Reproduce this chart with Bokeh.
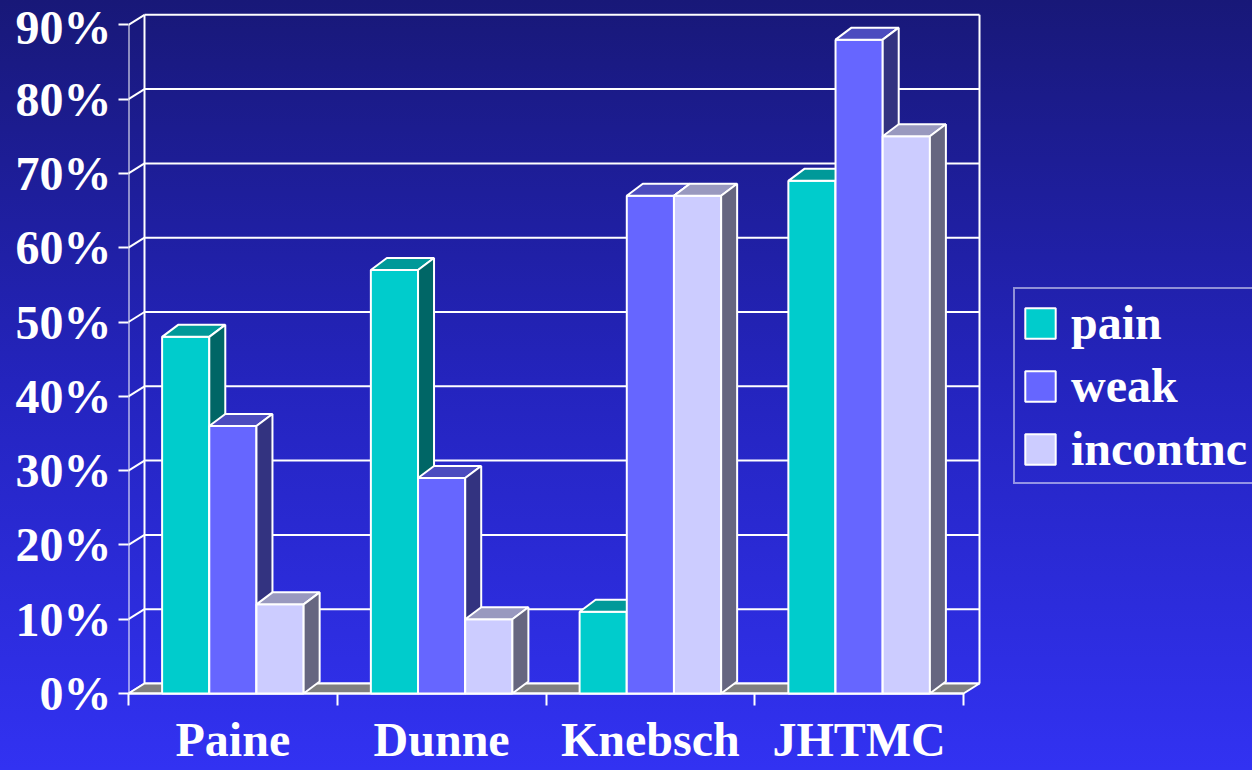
from bokeh.plotting import figure
from bokeh.models import FixedTicker, Legend, LegendItem
from bokeh.embed import file_html
from bokeh.resources import INLINE

# ---- data -------------------------------------------------------------
categories = ["Paine", "Dunne", "Knebsch", "JHTMC"]
series_names = ["pain", "weak", "incontnc"]
pain = [48, 57, 11, 69]
weak = [36, 29, 67, 88]
incontnc = [12, 10, 67, 75]
y_ticks = [0, 10, 20, 30, 40, 50, 60, 70, 80, 90]
y_tick_labels = ["0%", "10%", "20%", "30%", "40%", "50%", "60%", "70%", "80%", "90%"]

# ---- styling ----------------------------------------------------------
FONT = "Liberation Serif"
FONT_SIZE = "48px"
front_colors = ["#00CCCC", "#6666FF", "#CCCCFF"]
top_colors = ["#009999", "#4C4CBF", "#9999BF"]
side_colors = ["#006666", "#333380", "#666680"]
EDGE = "white"

W, H = 1252, 770
LEFT, BOTTOM = 128, 65
PX_PER_X = 208.75          # pixels per category
PX_PER_Y = 7.43            # pixels per percent
ZERO_PX_FROM_BOTTOM = 12   # frame bottom sits a little below the 0% line

x_end = (W - LEFT) / PX_PER_X
y_start = -ZERO_PX_FROM_BOTTOM / PX_PER_Y
y_end = y_start + (H - BOTTOM) / PX_PER_Y

# depth of the 3-D walls and of the bars, in data units
wall_dx, wall_dy = 16 / PX_PER_X, 10 / PX_PER_Y
bar_dx, bar_dy = 16 / PX_PER_X, 12 / PX_PER_Y
bar_w = 0.226
n_cat = len(categories)

p = figure(width=W, height=H, x_range=(0, x_end), y_range=(y_start, y_end),
           output_backend="svg", toolbar_location=None,
           min_border_left=LEFT, min_border_bottom=BOTTOM,
           min_border_top=0, min_border_right=0)
p.border_fill_color = None
p.background_fill_color = None
p.outline_line_color = None
p.grid.visible = False
p.styles = {"background": "linear-gradient(to bottom, #181878 0%, #2424BE 50%, #3232F2 100%)"}

# ---- axes -------------------------------------------------------------
ya = p.yaxis[0]
ya.ticker = FixedTicker(ticks=y_ticks)
ya.major_label_overrides = {t: s for t, s in zip(y_ticks, y_tick_labels)}
ya.axis_line_color = None
ya.major_tick_line_color = EDGE
ya.major_tick_line_width = 2
ya.major_tick_out = 10
ya.major_tick_in = 0
ya.minor_tick_line_color = None
ya.major_label_standoff = 7
ya.major_label_text_font = FONT
ya.major_label_text_font_style = "bold"
ya.major_label_text_font_size = FONT_SIZE
ya.major_label_text_color = "white"

xa = p.xaxis[0]
centers = [i + 0.5 for i in range(n_cat)]
xa.ticker = FixedTicker(ticks=centers, minor_ticks=list(range(n_cat + 1)))
xa.major_label_overrides = {c: name for c, name in zip(centers, categories)}
xa.axis_line_color = None
xa.major_tick_line_color = None
xa.major_tick_out = 0
xa.major_tick_in = 0
xa.minor_tick_line_color = EDGE
xa.minor_tick_line_width = 2
xa.minor_tick_in = ZERO_PX_FROM_BOTTOM
xa.minor_tick_out = 0
xa.major_label_standoff = 7
xa.major_label_text_font = FONT
xa.major_label_text_font_style = "bold"
xa.major_label_text_font_size = FONT_SIZE
xa.major_label_text_color = "white"

# ---- back wall, side wall grid and floor ------------------------------
top_v = y_ticks[-1]
# back wall horizontal grid lines
p.segment(x0=[wall_dx] * len(y_ticks), y0=[t + wall_dy for t in y_ticks],
          x1=[n_cat + wall_dx] * len(y_ticks), y1=[t + wall_dy for t in y_ticks],
          line_color=EDGE, line_width=2)
# side wall diagonals
p.segment(x0=[0] * len(y_ticks), y0=y_ticks,
          x1=[wall_dx] * len(y_ticks), y1=[t + wall_dy for t in y_ticks],
          line_color=EDGE, line_width=2)
# wall verticals (back-left, back-right) and front value axis
p.segment(x0=[wall_dx, n_cat + wall_dx, 0], y0=[wall_dy, wall_dy, 0],
          x1=[wall_dx, n_cat + wall_dx, 0], y1=[top_v + wall_dy, top_v + wall_dy, top_v],
          line_color=EDGE, line_width=2)
# floor
p.patch(x=[0, n_cat, n_cat + wall_dx, wall_dx], y=[0, 0, wall_dy, wall_dy],
        fill_color="#808080", line_color=EDGE, line_width=2)
# front category axis line
p.segment(x0=[0], y0=[0], x1=[n_cat], y1=[0], line_color=EDGE, line_width=2)

# ---- 3-D bars ---------------------------------------------------------
series = [pain, weak, incontnc]
legend_items = []
front_renderers = [None] * len(series)
for ci in range(n_cat):
    for si, vals in enumerate(series):
        v = vals[ci]
        x0 = ci + 0.5 + (si - 1.5) * bar_w
        x1 = x0 + bar_w
        fr = p.quad(left=[x0], right=[x1], bottom=[0], top=[v],
                    fill_color=front_colors[si], line_color=EDGE, line_width=2)
        if front_renderers[si] is None:
            front_renderers[si] = fr
        p.patch(x=[x0, x1, x1 + bar_dx, x0 + bar_dx], y=[v, v, v + bar_dy, v + bar_dy],
                fill_color=top_colors[si], line_color=EDGE, line_width=2)
        p.patch(x=[x1, x1, x1 + bar_dx, x1 + bar_dx], y=[0, v, v + bar_dy, bar_dy],
                fill_color=side_colors[si], line_color=EDGE, line_width=2)

for si, name in enumerate(series_names):
    legend_items.append(LegendItem(label=name, renderers=[front_renderers[si]]))

legend = Legend(items=legend_items, location=(885, 221), orientation="vertical")
legend.background_fill_alpha = 0
legend.border_line_color = EDGE
legend.border_line_width = 2
legend.label_text_font = FONT
legend.label_text_font_style = "bold"
legend.label_text_font_size = FONT_SIZE
legend.label_text_color = "white"
legend.glyph_width = 38
legend.glyph_height = 38
legend.label_standoff = 12
legend.padding = 6
legend.spacing = 8
legend.margin = 0
p.add_layout(legend, "center")

open("out.html", "w").write(file_html(p, INLINE))
